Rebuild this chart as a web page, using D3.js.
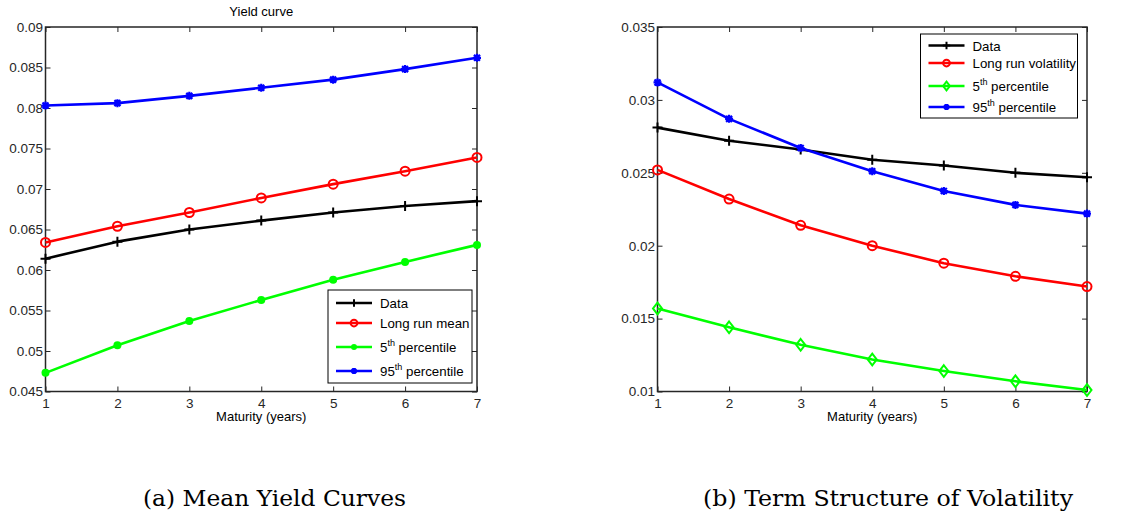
<!DOCTYPE html>
<html>
<head>
<meta charset="utf-8">
<script src="https://cdn.jsdelivr.net/npm/d3@7/dist/d3.min.js"></script>
<style>
  body { margin: 0; background: #fff; }
  svg { display: block; font-family: "Liberation Sans", Arial, sans-serif; }
</style>
</head>
<body>
<svg id="chart" width="1133" height="519"></svg>
<script>
// maturities (years)
const maturities = [1, 2, 3, 4, 5, 6, 7];

// (a) mean yield curves
const yieldData   = [0.0614, 0.0635, 0.0650, 0.0661, 0.0671, 0.0679, 0.0685];
const yieldMean   = [0.0634, 0.0654, 0.0671, 0.0689, 0.0706, 0.0722, 0.0739];
const yieldP5     = [0.0473, 0.0507, 0.0537, 0.0563, 0.0588, 0.0610, 0.0631];
const yieldP95    = [0.0803, 0.0806, 0.0815, 0.0825, 0.0835, 0.0848, 0.0862];
const yieldTicks  = [0.045, 0.05, 0.055, 0.06, 0.065, 0.07, 0.075, 0.08, 0.085, 0.09];

// (b) term structure of volatility
const volData     = [0.0281, 0.0272, 0.0266, 0.0259, 0.0255, 0.0250, 0.0247];
const volLongRun  = [0.0252, 0.0232, 0.0214, 0.0200, 0.0188, 0.0179, 0.0172];
const volP5       = [0.0157, 0.0144, 0.0132, 0.0122, 0.0114, 0.0107, 0.0101];
const volP95      = [0.0312, 0.0287, 0.0267, 0.0251, 0.02375, 0.0228, 0.0222];
const volTicks    = [0.01, 0.015, 0.02, 0.025, 0.03, 0.035];

const svg = d3.select("#chart");

// marker drawing, MATLAB-ish
function drawMarker(g, type, color, s) {
    if (type === "plus") {
        g.append("path").attr("d", `M${-s},0H${s}M0,${-s}V${s}`)
            .attr("stroke", color).attr("stroke-width", 2).attr("fill", "none");
    } else if (type === "circle") {
        g.append("circle").attr("r", s).attr("fill", "none")
            .attr("stroke", color).attr("stroke-width", 2);
    } else if (type === "dot") {
        g.append("circle").attr("r", s).attr("fill", color);
    } else if (type === "diamond") {
        g.append("path").attr("d", `M0,${-s * 1.3}L${s},0L0,${s * 1.3}L${-s},0Z`)
            .attr("fill", "none").attr("stroke", color).attr("stroke-width", 2);
    } else if (type === "star") {
        const d = s * 0.75;
        g.append("path")
            .attr("d", `M${-s},0H${s}M0,${-s}V${s}M${-d},${-d}L${d},${d}M${-d},${d}L${d},${-d}`)
            .attr("stroke", color).attr("stroke-width", 2.2).attr("fill", "none");
    }
}

function panel(opts) {
    const { x0, x1, yTop, yBot, domain, ticks, series, legend, title, caption, captionX, captionW } = opts;

    const x = d3.scaleLinear().domain([1, 7]).range([x0, x1]);
    const y = d3.scaleLinear().domain(domain).range([yBot, yTop]);
    const g = svg.append("g");

    // axes (MATLAB style: ticks inward on all four sides)
    const tl = 5;
    g.append("g").attr("transform", `translate(0,${yBot})`)
        .call(d3.axisBottom(x).tickValues(maturities).tickFormat(d3.format("d")).tickSizeInner(-tl).tickSizeOuter(0).tickPadding(7))
        .call(a => a.select(".domain").remove());
    g.append("g").attr("transform", `translate(0,${yTop})`)
        .call(d3.axisTop(x).tickValues(maturities).tickFormat("").tickSizeInner(-tl).tickSizeOuter(0))
        .call(a => a.select(".domain").remove());
    g.append("g").attr("transform", `translate(${x0},0)`)
        .call(d3.axisLeft(y).tickValues(ticks).tickFormat(d => String(+d.toFixed(3))).tickSizeInner(-tl).tickSizeOuter(0).tickPadding(2.5))
        .call(a => a.select(".domain").remove());
    g.append("g").attr("transform", `translate(${x1},0)`)
        .call(d3.axisRight(y).tickValues(ticks).tickFormat("").tickSizeInner(-tl).tickSizeOuter(0))
        .call(a => a.select(".domain").remove());

    g.selectAll(".tick text").attr("font-size", 13.5).attr("fill", "#262626")
        .attr("font-family", "Liberation Sans, Arial, sans-serif");
    g.selectAll(".tick line").attr("stroke", "#262626");

    // frame
    g.append("rect").attr("x", x0).attr("y", yTop).attr("width", x1 - x0).attr("height", yBot - yTop)
        .attr("fill", "none").attr("stroke", "#262626").attr("stroke-width", 1.5);

    // lines and markers
    const line = d3.line().x((d, i) => x(maturities[i])).y(d => y(d));
    series.forEach(s => {
        g.append("path").datum(s.values).attr("d", line)
            .attr("fill", "none").attr("stroke", s.color).attr("stroke-width", 2.6)
            .attr("stroke-linejoin", "round");
        s.values.forEach((v, i) => {
            const m = g.append("g").attr("transform", `translate(${x(maturities[i])},${y(v)})`);
            drawMarker(m, s.marker, s.color, s.size);
        });
    });

    // legend
    const lg = g.append("g");
    lg.append("rect").attr("x", legend.x).attr("y", legend.y).attr("width", legend.w).attr("height", legend.h)
        .attr("fill", "#fff").attr("stroke", "#000").attr("stroke-width", 1);
    series.forEach((s, i) => {
        const ly = legend.rows[i];
        lg.append("line").attr("x1", legend.x + 8).attr("x2", legend.x + 44).attr("y1", ly).attr("y2", ly)
            .attr("stroke", s.color).attr("stroke-width", 2.6);
        const m = lg.append("g").attr("transform", `translate(${legend.x + 26},${ly})`);
        drawMarker(m, s.marker, s.color, s.size * 0.75);
        const t = lg.append("text").attr("x", legend.x + 52).attr("y", ly + 5)
            .attr("font-size", 13.3).attr("fill", "#000");
        if (s.sup) {
            t.append("tspan").text(s.label[0]);
            t.append("tspan").attr("font-size", 9).attr("dy", -6).text(s.sup);
            t.append("tspan").attr("dy", 6).text(s.label[1]);
        } else {
            t.text(s.label);
        }
    });

    // x label, title, caption
    g.append("text").attr("x", (x0 + x1) / 2).attr("y", 421).attr("text-anchor", "middle")
        .attr("font-size", 13).attr("fill", "#000").text("Maturity (years)");
    if (title) {
        g.append("text").attr("x", (x0 + x1) / 2).attr("y", 16).attr("text-anchor", "middle")
            .attr("font-size", 13).attr("fill", "#000").text(title);
    }
    g.append("text").attr("x", captionX).attr("y", 506).attr("text-anchor", "middle")
        .attr("font-family", "DejaVu Serif, Liberation Serif, serif").attr("font-size", 22)
        .attr("textLength", captionW).attr("lengthAdjust", "spacingAndGlyphs")
        .attr("fill", "#000").text(caption);
}

panel({
    x0: 45.5, x1: 477, yTop: 27, yBot: 391.5,
    domain: [0.045, 0.09], ticks: yieldTicks, title: "Yield curve",
    caption: "(a) Mean Yield Curves", captionX: 274.5, captionW: 263,
    series: [
        { values: yieldData, color: "#000", marker: "plus", size: 5, label: "Data" },
        { values: yieldMean, color: "#ff0000", marker: "circle", size: 4.5, label: "Long run mean" },
        { values: yieldP5, color: "#00ff00", marker: "dot", size: 4, label: ["5", " percentile"], sup: "th" },
        { values: yieldP95, color: "#0000ff", marker: "star", size: 4, label: ["95", " percentile"], sup: "th" }
    ],
    legend: { x: 328, y: 290, w: 144, h: 93, rows: [303, 323, 347, 371] }
});

panel({
    x0: 657.5, x1: 1087, yTop: 27, yBot: 391.5,
    domain: [0.01, 0.035], ticks: volTicks, title: null,
    caption: "(b) Term Structure of Volatility", captionX: 888, captionW: 370,
    series: [
        { values: volData, color: "#000", marker: "plus", size: 5, label: "Data" },
        { values: volLongRun, color: "#ff0000", marker: "circle", size: 4.5, label: "Long run volatility" },
        { values: volP5, color: "#00ff00", marker: "diamond", size: 4.5, label: ["5", " percentile"], sup: "th" },
        { values: volP95, color: "#0000ff", marker: "star", size: 4, label: ["95", " percentile"], sup: "th" }
    ],
    legend: { x: 920.5, y: 34, w: 157, h: 84, rows: [45.5, 63, 86, 107] }
});
</script>
</body>
</html>
